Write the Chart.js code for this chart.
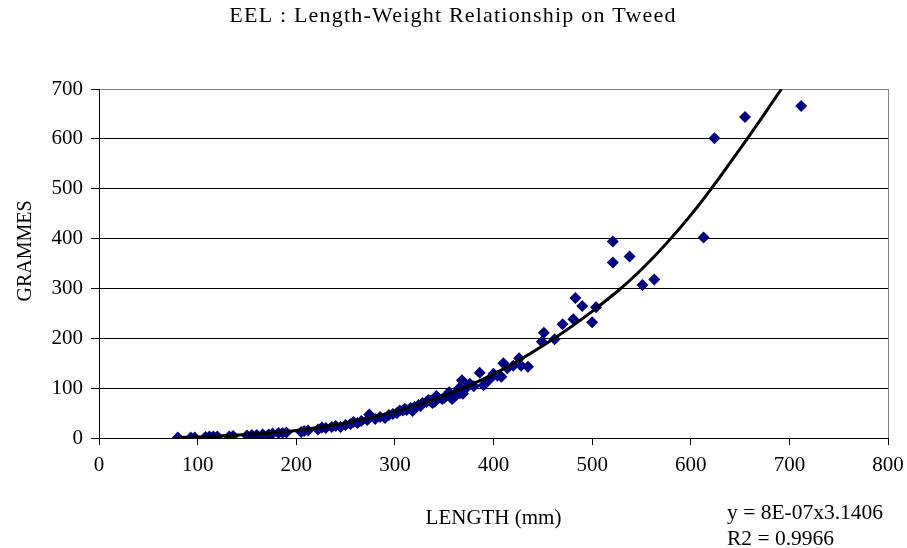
<!DOCTYPE html>
<html>
<head>
<meta charset="utf-8">
<script src="https://cdn.jsdelivr.net/npm/chart.js@4"></script>
<style>
    html, body { margin: 0; padding: 0; background: #fff; }
    #wrap { width: 907px; height: 548px; }
</style>
</head>
<body>
<div id="wrap"><canvas id="eelChart" width="907" height="548"></canvas></div>
<script>
// eel lengths (mm) and weights (g)
const lengths = [80, 93, 97, 108, 112, 116, 120, 132, 136, 150, 155, 160, 166, 172, 176, 182, 186, 190,
    205, 208, 212, 222, 226, 230, 236, 240, 245, 250, 255, 258, 262, 266, 272, 274, 280, 285, 290, 294,
    298, 302, 305, 308, 310, 312, 316, 318, 320, 324, 326, 328, 332, 334, 336, 338, 340, 342, 344, 348,
    350, 352, 355, 356, 358, 360, 362, 364, 365, 366,
    368, 369, 372, 376, 380, 386, 390, 393, 396, 400, 404, 408, 410, 414, 420, 426, 428, 435,
    449, 451, 462, 470, 481, 483, 490, 500, 504, 521, 521, 538, 551, 563, 613, 624, 655, 712];
const weights = [1, 1, 1, 2, 3, 3, 3, 3, 4, 5, 6, 6, 7, 7, 9, 10, 10, 11,
    12, 14, 15, 17, 21, 20, 22, 24, 22, 26, 28, 32, 30, 34, 36, 47, 38, 42, 40, 46,
    48, 50, 55, 55, 58, 56, 60, 54, 62, 66, 64, 70, 72, 76, 74, 70, 72, 84, 80, 78,
    80, 84, 92, 88, 78, 82, 86, 95, 100, 90,
    116, 89, 100, 109, 104, 131, 106, 113, 118, 129, 125, 123, 150, 140, 145, 160, 145, 143,
    193, 211, 198, 228, 238, 281, 265, 232, 262, 394, 352, 364, 307, 318, 402, 601, 644, 666];

// trend curve
const trendX = [80, 100, 150, 200, 250, 300, 350, 400, 450, 500, 550, 600, 650, 692];
const trendY = [1, 2, 7, 15, 30, 53, 85, 128, 185, 254, 338, 447, 580, 700];

const titleText = 'EEL : Length-Weight Relationship on Tweed';
const xTitle = 'LENGTH (mm)';
const yTitle = 'GRAMMES';
const eqLines = ['y = 8E-07x3.1406', 'R2 = 0.9966'];

const serif = "'Liberation Serif', 'Times New Roman', serif";

const fishPoints = lengths.map((l, i) => ({ x: l, y: weights[i] }));
const trendPoints = trendX.map((l, i) => ({ x: l, y: trendY[i] }));

const plotExtras = {
    id: 'plotExtras',
    beforeDatasetsDraw(chart) {
        const { ctx, chartArea } = chart;
        ctx.save();
        ctx.strokeStyle = '#808080';
        ctx.lineWidth = 1;
        ctx.beginPath();
        ctx.moveTo(chartArea.right + 0.5, chartArea.top);
        ctx.lineTo(chartArea.right + 0.5, chartArea.bottom);
        ctx.stroke();
        ctx.restore();
    },
    afterDraw(chart) {
        const ctx = chart.ctx;
        ctx.save();
        ctx.fillStyle = '#000';
        ctx.textBaseline = 'middle';

        // title, spaced out like the original
        ctx.font = '22px ' + serif;
        ctx.textAlign = 'center';
        ctx.letterSpacing = '1.2px';
        ctx.fillText(titleText, 453, 16);
        ctx.letterSpacing = '0px';

        // y axis title
        ctx.save();
        ctx.translate(26, 251);
        ctx.rotate(-Math.PI / 2);
        ctx.font = '20px ' + serif;
        ctx.fillText(yTitle, 0, 0);
        ctx.restore();

        // trendline equation
        ctx.font = '21.5px ' + serif;
        ctx.textAlign = 'left';
        ctx.fillText(eqLines[0], 727, 513);
        ctx.fillText(eqLines[1], 727, 539);
        ctx.restore();
    }
};

new Chart(document.getElementById('eelChart'), {
    type: 'scatter',
    data: {
        datasets: [{
            type: 'line',
            label: 'Trend',
            data: trendPoints,
            borderColor: '#000',
            borderWidth: 3,
            pointRadius: 0,
            tension: 0.4,
            fill: false,
            order: 0,
        }, {
            label: 'Eel',
            data: fishPoints,
            pointStyle: 'rectRot',
            pointRadius: 6,
            borderWidth: 0,
            backgroundColor: '#000080',
            borderColor: '#000080',
            order: 1,
        }],
    },
    options: {
        responsive: false,
        animation: false,
        layout: {
            padding: { top: 89, right: 19, bottom: 0, left: 0 }
        },
        plugins: {
            legend: { display: false },
            tooltip: { enabled: false },
            title: { display: false }
        },
        scales: {
            x: {
                type: 'linear',
                min: 0,
                max: 800,
                afterFit(scale) {
                    scale.height = 110;
                    scale.paddingLeft = 0;
                    scale.paddingRight = 0;
                },
                ticks: {
                    stepSize: 100,
                    color: '#000',
                    padding: 8,
                    maxRotation: 0,
                    font: { family: serif, size: 21 },
                },
                grid: {
                    drawOnChartArea: false,
                    drawTicks: true,
                    tickLength: 7,
                    tickColor: '#000',
                },
                border: { display: true, color: '#000', width: 1 },
                title: {
                    display: true,
                    text: xTitle,
                    color: '#000',
                    font: { family: serif, size: 21, lineHeight: 1.2 },
                    padding: { top: 0, bottom: 17 },
                }
            },
            y: {
                min: 0,
                max: 700,
                afterFit(scale) {
                    scale.width = 99;
                    scale.paddingTop = 0;
                    scale.paddingBottom = 0;
                },
                ticks: {
                    stepSize: 100,
                    color: '#000',
                    padding: 8,
                    font: { family: serif, size: 21 },
                },
                grid: {
                    color: (c) => c.tick && c.tick.value === 700 ? '#808080' : '#000',
                    tickColor: '#000',
                    tickLength: 8,
                },
                border: { display: true, color: '#000', width: 1 },
                title: { display: false }
            }
        }
    },
    plugins: [plotExtras]
});
</script>
</body>
</html>
